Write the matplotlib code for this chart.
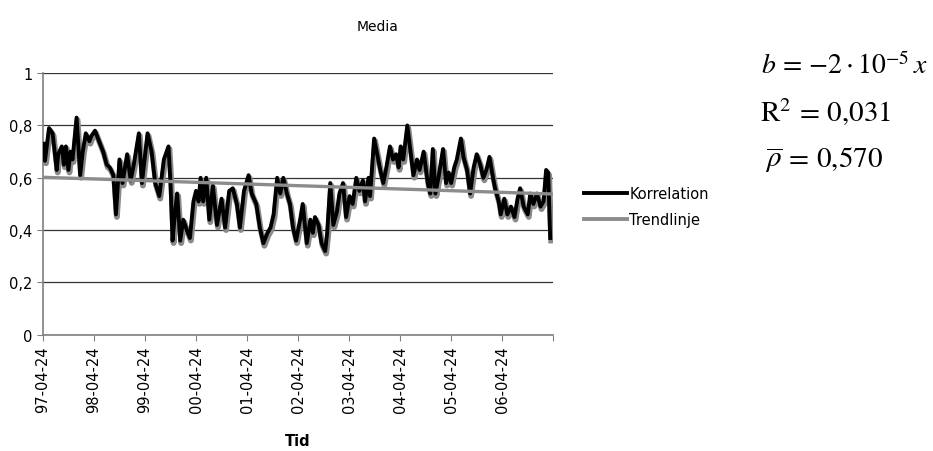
import numpy as np
import matplotlib
matplotlib.use('Agg')
import matplotlib.pyplot as plt
import matplotlib.transforms as mtransforms

# time in years since 97-04-24 and correlation (rows aligned)
t = [0.01, 0.04, 0.12, 0.19, 0.27, 0.30, 0.37, 0.41, 0.45, 0.50,
     0.54, 0.58, 0.66, 0.73, 0.78, 0.84, 0.91, 0.95, 1.02, 1.08,
     1.18, 1.25, 1.31, 1.38, 1.43, 1.50, 1.56, 1.65, 1.72, 1.78,
     1.88, 1.94, 2.05, 2.13, 2.20, 2.28, 2.37, 2.46, 2.50, 2.54,
     2.59, 2.63, 2.69, 2.75, 2.82, 2.88, 2.95, 3.00, 3.05, 3.09,
     3.14, 3.20, 3.26, 3.33, 3.41, 3.50, 3.57, 3.65, 3.72, 3.80,
     3.86, 3.94, 4.03, 4.09, 4.18, 4.25, 4.32, 4.40, 4.46, 4.52,
     4.59, 4.65, 4.71, 4.78, 4.84, 4.90, 4.96, 5.04, 5.09, 5.17,
     5.24, 5.29, 5.33, 5.40, 5.46, 5.53, 5.57, 5.63, 5.69, 5.76,
     5.81, 5.88, 5.94, 6.01, 6.07, 6.14, 6.20, 6.27, 6.31, 6.38,
     6.41, 6.49, 6.54, 6.61, 6.67, 6.73, 6.80, 6.86, 6.92, 6.97,
     7.01, 7.06, 7.14, 7.21, 7.26, 7.33, 7.38, 7.46, 7.54, 7.59,
     7.64, 7.69, 7.75, 7.84, 7.90, 7.95, 8.00, 8.06, 8.11, 8.19,
     8.24, 8.31, 8.37, 8.44, 8.50, 8.57, 8.63, 8.69, 8.75, 8.82,
     8.86, 8.93, 8.97, 9.04, 9.10, 9.17, 9.24, 9.30, 9.35, 9.42,
     9.50, 9.55, 9.61, 9.68, 9.75, 9.81, 9.86, 9.90, 9.94]
korrelation = [0.73, 0.665, 0.79, 0.77, 0.63, 0.69, 0.72, 0.65, 0.72, 0.63,
               0.70, 0.67, 0.83, 0.61, 0.70, 0.77, 0.74, 0.76, 0.78, 0.75,
               0.70, 0.65, 0.64, 0.61, 0.46, 0.67, 0.58, 0.69, 0.59, 0.65,
               0.77, 0.58, 0.77, 0.70, 0.58, 0.53, 0.67, 0.72, 0.58, 0.36,
               0.47, 0.54, 0.36, 0.44, 0.40, 0.37, 0.51, 0.55, 0.51, 0.60,
               0.51, 0.60, 0.44, 0.57, 0.42, 0.52, 0.41, 0.55, 0.56, 0.50,
               0.41, 0.55, 0.61, 0.54, 0.50, 0.41, 0.35, 0.39, 0.41, 0.46,
               0.60, 0.54, 0.60, 0.54, 0.50, 0.41, 0.36, 0.44, 0.50, 0.35,
               0.44, 0.39, 0.45, 0.42, 0.35, 0.32, 0.39, 0.58, 0.42, 0.47,
               0.54, 0.58, 0.45, 0.53, 0.50, 0.60, 0.55, 0.59, 0.51, 0.60,
               0.53, 0.75, 0.70, 0.63, 0.58, 0.64, 0.72, 0.67, 0.69, 0.64,
               0.72, 0.67, 0.80, 0.69, 0.61, 0.67, 0.63, 0.70, 0.58, 0.54,
               0.71, 0.54, 0.60, 0.71, 0.58, 0.62, 0.58, 0.64, 0.67, 0.75,
               0.68, 0.63, 0.54, 0.64, 0.69, 0.65, 0.60, 0.63, 0.68, 0.60,
               0.56, 0.51, 0.46, 0.52, 0.46, 0.49, 0.45, 0.52, 0.56, 0.49,
               0.46, 0.54, 0.50, 0.54, 0.49, 0.51, 0.63, 0.62, 0.37]
trend_t = [0.0, 10.0]
trendlinje = [0.602, 0.538]

tick_pos = list(range(11))
tick_labels = ['97-04-24', '98-04-24', '99-04-24', '00-04-24', '01-04-24',
               '02-04-24', '03-04-24', '04-04-24', '05-04-24', '06-04-24', '']

plt.rcParams['font.family'] = ['DejaVu Sans']
plt.rcParams['mathtext.fontset'] = 'stix'

fig = plt.figure(figsize=(9.33, 4.52), dpi=100)
ax = fig.add_axes([0.046, 0.257, 0.547, 0.579])

# grey shadow under the correlation line
shadow = mtransforms.offset_copy(ax.transData, fig=fig, x=1.0, y=-2.5, units='dots')
ax.plot(t, korrelation, color='#8a8a8a', lw=4.2, transform=shadow, zorder=2)
ax.plot(t, korrelation, color='black', lw=2.8, label='Korrelation', zorder=3)
ax.plot(trend_t, trendlinje, color='#8c8c8c', lw=2.4, label='Trendlinje', zorder=4)

ax.set_xlim(0, 10)
ax.set_ylim(0, 1)
ax.set_yticks([0, 0.2, 0.4, 0.6, 0.8, 1.0])
ax.set_yticklabels(['0', '0,2', '0,4', '0,6', '0,8', '1'])
ax.set_xticks(tick_pos)
ax.set_xticklabels(tick_labels, rotation=90)
ax.tick_params(labelsize=10.5, length=4, color='#808080', direction='out')
ax.yaxis.grid(True, color='#333333', lw=0.9)
ax.set_axisbelow(True)
for s in ['top', 'right']:
    ax.spines[s].set_visible(False)
for s in ['left', 'bottom']:
    ax.spines[s].set_color('#808080')
    ax.spines[s].set_linewidth(1.2)
ax.set_xlabel('Tid', fontsize=10.5, fontweight='bold', labelpad=15)

fig.text(0.405, 0.94, 'Media', ha='center', va='center', fontsize=10)

leg = ax.legend(loc='center left', bbox_to_anchor=(1.045, 0.49), frameon=False,
                fontsize=10.5, handlelength=3.0, handletextpad=0.15, labelspacing=0.75,
                borderpad=0)
for h in leg.get_lines():
    h.set_linewidth(2.8)

fig.text(0.816, 0.855, r'$b\,=\,{-}2\cdot10^{-5}\,x$', fontsize=20, ha='left', va='center')
fig.text(0.815, 0.752, r'$\mathrm{R}^2\,=\,0{,}031$', fontsize=21, ha='left', va='center')
fig.text(0.820, 0.645, r'$\overline{\rho}\,=\,0{,}570$', fontsize=21, ha='left', va='center')

fig.savefig('out.png', dpi=100)
